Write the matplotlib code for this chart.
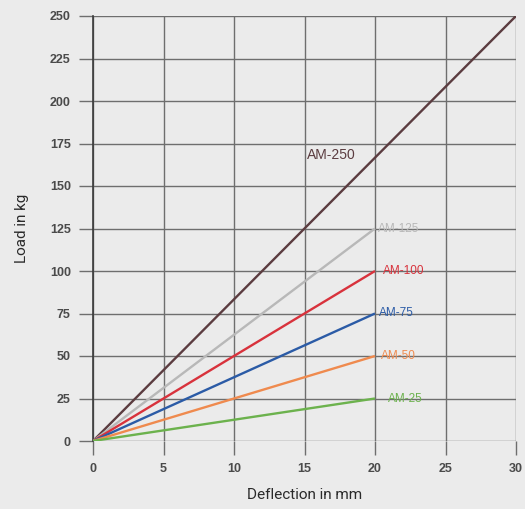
import matplotlib
matplotlib.use("Agg")
import matplotlib.pyplot as plt

series_names = ["AM-250", "AM-125", "AM-100", "AM-75", "AM-50", "AM-25"]
end_deflection = [30, 20, 20, 20, 20, 20]
end_load = [250, 125, 100, 75, 50, 25]
colors = ["#5b3c40", "#b8b8b8", "#d8323c", "#2b5ba6", "#ef8a4e", "#6cb24d"]
label_pos = [(16.9, 168), (20.2, 125), (20.55, 100), (20.3, 75), (20.4, 50), (20.9, 25)]
label_ha = ["center", "left", "left", "left", "left", "left"]
label_size = [10, 8.5, 8.5, 8.5, 8.5, 8.5]

x_ticks = [0, 5, 10, 15, 20, 25, 30]
y_ticks = [0, 25, 50, 75, 100, 125, 150, 175, 200, 225, 250]

bg = "#ebebeb"
grid_c = "#6e6e6e"
fig = plt.figure(figsize=(5.25, 5.09), dpi=100, facecolor=bg)
ax = fig.add_axes([93/525, 1-441/509, 423/525, 425/509], facecolor=bg)

for name, xe, ye, c, (lx, ly), ha, fs in zip(series_names, end_deflection, end_load, colors,
                                             label_pos, label_ha, label_size):
    ax.plot([0, xe], [0, ye], color=c, lw=1.7, solid_capstyle="butt", zorder=3)
    ax.text(lx, ly, name, color=c, fontsize=fs, ha=ha, va="center", zorder=4,
            family="Liberation Sans")

ax.set_xlim(0, 30)
ax.set_ylim(0, 250)
ax.set_xticks(x_ticks)
ax.set_yticks(y_ticks)
ax.grid(True, color=grid_c, lw=1.0, zorder=1)
ax.set_axisbelow(True)
for s in ax.spines.values():
    s.set_visible(False)
ax.spines["left"].set_visible(True)
ax.spines["left"].set_color("#3a3a3a")
ax.spines["left"].set_linewidth(1.2)
ax.tick_params(axis="both", length=10, width=1.0, color=grid_c,
               labelsize=9, labelcolor="#4a4a4a", pad=6)
for lab in ax.get_xticklabels() + ax.get_yticklabels():
    lab.set_family("Liberation Sans")
    lab.set_fontweight("bold")
ax.set_xlabel("Deflection in mm", fontsize=11, color="#2a2a2a", family="Roboto")
ax.set_ylabel("Load in kg", fontsize=11, color="#2a2a2a", family="Roboto")
ax.xaxis.set_label_coords(0.5, -0.11)
ax.yaxis.set_label_coords(-0.151, 0.5)

fig.savefig("out.png", dpi=100, facecolor=bg)
